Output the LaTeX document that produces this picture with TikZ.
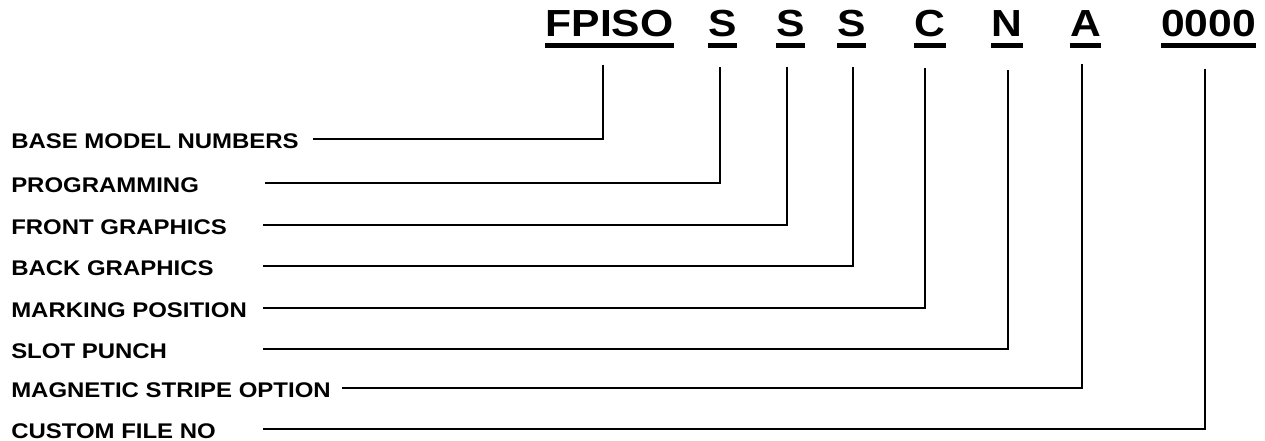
\documentclass[tikz,border=0pt]{standalone}
\usepackage{fontspec}
\setmainfont{Liberation Sans}[FakeStretch=1.13]
\usepackage{tikz}

\begin{document}
\begin{tikzpicture}[x=0.75pt,y=-0.75pt,
    code/.style={anchor=base,inner sep=0pt,text depth=0pt,font=\fontsize{28.3}{30}\selectfont\bfseries},
    lbl/.style={anchor=base west,inner sep=0pt,font=\fontsize{15.9}{17}\selectfont\bfseries},
    lead/.style={line width=2.2pt},
    uline/.style={line width=3.75pt}]
                \useasboundingbox (0,0) rectangle (1265,441);
                % part number
                \node[code] (fpiso) at (609.5,37) {FPISO};
                \node[code] (prog) at (722.5,37) {S};
                \node[code] (front) at (790.5,37) {S};
                \node[code] (back) at (851.5,37) {S};
                \node[code] (mark) at (930,37) {C};
                \node[code] (slot) at (1007,37) {N};
                \node[code] (mag) at (1085.5,37) {A};
                \node[code] (cust) at (1208.5,37) {0000};
                \draw[uline] ([yshift=-6.4pt]fpiso.base west) -- ([yshift=-6.4pt]fpiso.base east);
                \draw[uline] ([yshift=-6.4pt]prog.base west) -- ([yshift=-6.4pt]prog.base east);
                \draw[uline] ([yshift=-6.4pt]front.base west) -- ([yshift=-6.4pt]front.base east);
                \draw[uline] ([yshift=-6.4pt]back.base west) -- ([yshift=-6.4pt]back.base east);
                \draw[uline] ([yshift=-6.4pt]mark.base west) -- ([yshift=-6.4pt]mark.base east);
                \draw[uline] ([yshift=-6.4pt]slot.base west) -- ([yshift=-6.4pt]slot.base east);
                \draw[uline] ([yshift=-6.4pt]mag.base west) -- ([yshift=-6.4pt]mag.base east);
                \draw[uline] ([yshift=-6.4pt]cust.base west) -- ([yshift=-6.4pt]cust.base east);
                % field names
                \node[lbl] (base-l) at (11,149) {BASE MODEL NUMBERS};
                \node[lbl] (prog-l) at (11,193) {PROGRAMMING};
                \node[lbl] (front-l) at (11,235) {FRONT GRAPHICS};
                \node[lbl] (back-l) at (11,276) {BACK GRAPHICS};
                \node[lbl] (mark-l) at (11,318) {MARKING POSITION};
                \node[lbl] (slot-l) at (11,359) {SLOT PUNCH};
                \node[lbl] (mag-l) at (11,398) {MAGNETIC STRIPE OPTION};
                \node[lbl] (cust-l) at (11,439) {CUSTOM FILE NO};
                % leader lines
                \coordinate (base-t) at (603,65);
                \coordinate (prog-t) at (720,67);
                \coordinate (front-t) at (787,67);
                \coordinate (back-t) at (853,67);
                \coordinate (mark-t) at (925,68);
                \coordinate (slot-t) at (1008,70);
                \coordinate (mag-t) at (1082,64);
                \coordinate (cust-t) at (1205,69);
                \coordinate (base-s) at (313,139);
                \coordinate (prog-s) at (265,183);
                \coordinate (front-s) at (263,225);
                \coordinate (back-s) at (263,266);
                \coordinate (mark-s) at (263,308);
                \coordinate (slot-s) at (263,349);
                \coordinate (mag-s) at (342,388);
                \coordinate (cust-s) at (263,429);
                \draw[lead] (base-t) |- (base-s);
                \draw[lead] (prog-t) |- (prog-s);
                \draw[lead] (front-t) |- (front-s);
                \draw[lead] (back-t) |- (back-s);
                \draw[lead] (mark-t) |- (mark-s);
                \draw[lead] (slot-t) |- (slot-s);
                \draw[lead] (mag-t) |- (mag-s);
                \draw[lead] (cust-t) |- (cust-s);
            \end{tikzpicture}
\end{document}
